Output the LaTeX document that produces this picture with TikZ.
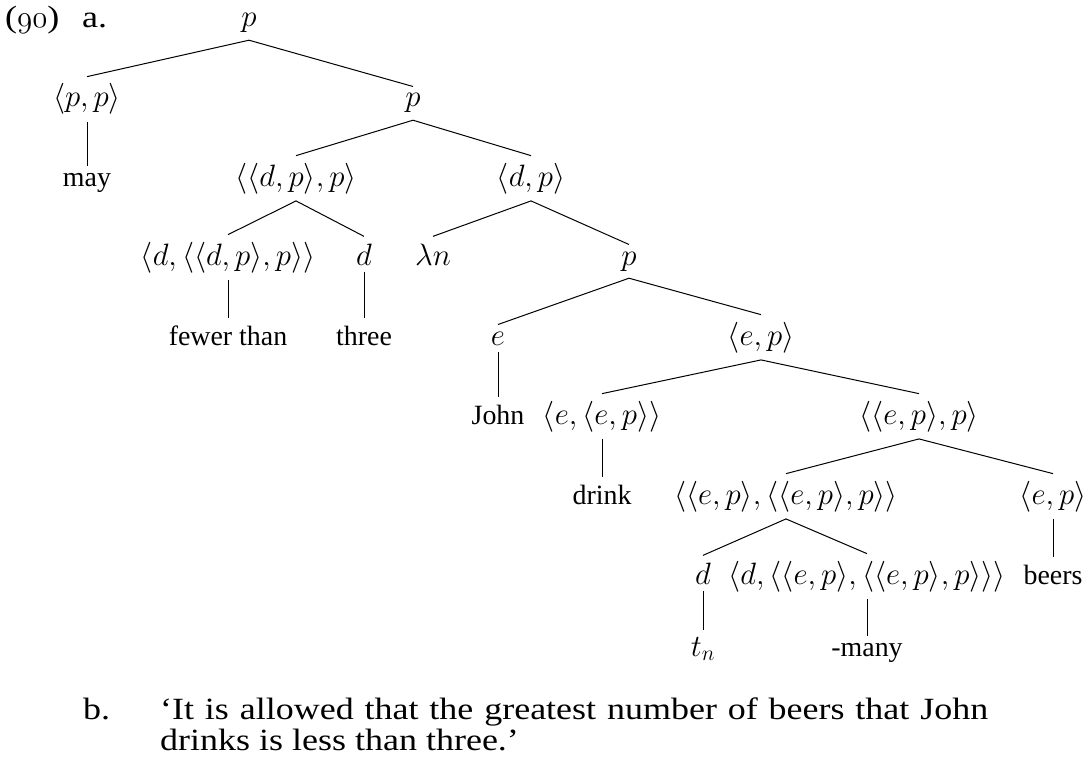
\RequirePackage{fix-cm}
\documentclass[tikz,border=0pt]{standalone}
\usepackage{fontspec}
\setmainfont{Liberation Serif}
\newfontfamily\sentfont[FakeStretch=1.165]{Liberation Serif}
\begin{document}
\begin{tikzpicture}[x=1bp,y=-1bp,
  tn/.style={anchor=base, inner xsep=0pt, inner ysep=7bp, font=\fontsize{28}{34}\selectfont},
  tm/.style={tn, font=\fontsize{31}{36}\selectfont},
  lab/.style={anchor=base west, inner sep=0pt, font=\sentfont\fontsize{31}{33}\selectfont},
  edge/.style={draw=black, line width=1bp}]
\useasboundingbox (0,0) rectangle (1089,759);
% labels
\node[lab] (num) at (5,28) {($\mathnormal{90}$)};
\node[lab] (a) at (82,28) {a.};
% row 1
\node[tm] (r) at (249,27) {$p$};
% row 2
\node[tm] (pp) at (87,107) {$\langle p,p\rangle$};
\node[tm] (p2) at (413,107) {$p$};
% row 3
\node[tn] (may) at (87,186) {may};
\node[tm] (dpp) at (296,186) {$\langle\langle d,p\rangle,p\rangle$};
\node[tm] (dp) at (531,186) {$\langle d,p\rangle$};
% row 4
\node[tm] (ddpp) at (228,265) {$\langle d,\langle\langle d,p\rangle,p\rangle\rangle$};
\node[tm] (d1) at (364,265) {$d$};
\node[tm] (lam) at (433,265) {$\lambda n$};
\node[tm] (p4) at (629,265) {$p$};
% row 5
\node[tn] (fewer) at (228,345) {fewer than};
\node[tn] (three) at (364,345) {three};
\node[tm] (e1) at (498,345) {$e$};
\node[tm] (ep1) at (761,345) {$\langle e,p\rangle$};
% row 6
\node[tn] (john) at (498,424) {John};
\node[tm] (eep) at (602,424) {$\langle e,\langle e,p\rangle\rangle$};
\node[tm] (epp) at (919,424) {$\langle\langle e,p\rangle,p\rangle$};
% row 7
\node[tn] (drink) at (602,504) {drink};
\node[tm] (epepp) at (786,504) {$\langle\langle e,p\rangle,\langle\langle e,p\rangle,p\rangle\rangle$};
\node[tm] (ep2) at (1053,504) {$\langle e,p\rangle$};
% row 8
\node[tm] (d2) at (703,584) {$d$};
\node[tm] (many1) at (867,584) {$\langle d,\langle\langle e,p\rangle,\langle\langle e,p\rangle,p\rangle\rangle\rangle$};
\node[tn] (beers) at (1053,584) {beers};
% row 9
\node[tm] (tn) at (703,656) {$t_n$};
\node[tn] (many) at (867,656) {-many};
% edges
\draw[edge] (r.south) -- (pp.north);
\draw[edge] (r.south) -- (p2.north);
\draw[edge] (pp.south) -- (may.north);
\draw[edge] (p2.south) -- (dpp.north);
\draw[edge] (p2.south) -- (dp.north);
\draw[edge] (dpp.south) -- (ddpp.north);
\draw[edge] (dpp.south) -- (d1.north);
\draw[edge] (dp.south) -- (lam.north);
\draw[edge] (dp.south) -- (p4.north);
\draw[edge] (ddpp.south) -- (fewer.north);
\draw[edge] (d1.south) -- (three.north);
\draw[edge] (p4.south) -- (e1.north);
\draw[edge] (p4.south) -- (ep1.north);
\draw[edge] (e1.south) -- (john.north);
\draw[edge] (ep1.south) -- (eep.north);
\draw[edge] (ep1.south) -- (epp.north);
\draw[edge] (eep.south) -- (drink.north);
\draw[edge] (epp.south) -- (epepp.north);
\draw[edge] (epp.south) -- (ep2.north);
\draw[edge] (epepp.south) -- (d2.north);
\draw[edge] (epepp.south) -- (many1.north);
\draw[edge] (ep2.south) -- (beers.north);
\draw[edge] (d2.south) -- (tn.north);
\draw[edge] (many1.south) -- (many.north);
% sentence
\node[lab] (b) at (83,719) {b.};
\node[lab] (s1) at (160,719) {\makebox[828bp][s]{‘It is allowed that the greatest number of beers that John}};
\node[lab] (s2) at (160,750) {drinks is less than three.’};
\end{tikzpicture}
\end{document}
